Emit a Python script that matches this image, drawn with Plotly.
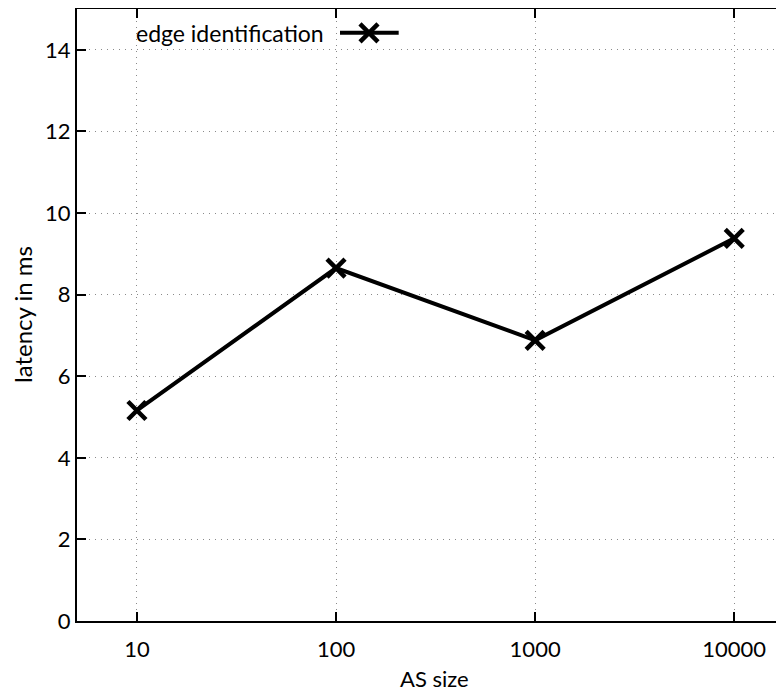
import plotly.graph_objects as go
import math

as_size = [10, 100, 1000, 10000]
latency_ms = [5.16, 8.65, 6.88, 9.38]
series_name = "edge identification"
x_title = "AS size"
y_title = "latency in ms"
x_ticks = [10, 100, 1000, 10000]
y_ticks = [0, 2, 4, 6, 8, 10, 12, 14]

FONT = "Lato"
GRID = dict(showgrid=True, gridcolor="#8a8a8a", griddash="1px,5px", gridwidth=1)
LW = 4
MK = dict(symbol="x-thin", size=18, line=dict(color="black", width=4.5))
fig = go.Figure()
fig.add_trace(go.Scatter(
    x=as_size, y=latency_ms, mode="lines+markers", showlegend=False,
    line=dict(color="black", width=LW), marker=MK,
))
# legend sample on an overlay axis spanning the plot area (0..1)
fig.add_trace(go.Scatter(
    x=[0.372, 0.455], y=[0.961, 0.961], xaxis="x2", yaxis="y2",
    mode="lines", showlegend=False, line=dict(color="black", width=LW), hoverinfo="skip"))
fig.add_trace(go.Scatter(
    x=[0.413], y=[0.961], xaxis="x2", yaxis="y2", mode="markers", showlegend=False,
    marker=MK, hoverinfo="skip"))

fig.add_annotation(x=0.352, y=0.961, xref="x2", yref="y2", xanchor="right", yanchor="middle",
                   text=series_name, showarrow=False,
                   font=dict(family=FONT, size=23, color="black"))
fig.add_annotation(x=0.5, y=0, xref="paper", yref="paper", xanchor="center", yanchor="middle",
                   xshift=4, yshift=-57, text=x_title, showarrow=False,
                   font=dict(family=FONT, size=22, color="black"))
fig.add_annotation(x=0, y=0.5, xref="paper", yref="paper", xanchor="center", yanchor="middle",
                   xshift=-55, textangle=-90, text=y_title, showarrow=False,
                   font=dict(family=FONT, size=24, color="black"))

fig.update_layout(
    width=776, height=687,
    margin=dict(l=69, r=0, t=1, b=74),
    paper_bgcolor="white", plot_bgcolor="white",
    font=dict(family=FONT, size=22, color="black"),
    xaxis=dict(type="log", range=[math.log10(5), 4.25], tickvals=x_ticks,
               ticktext=[str(v) for v in x_ticks], automargin=False,
               tickfont=dict(family=FONT, size=22), ticklabelstandoff=8,
               ticks="inside", ticklen=9, tickwidth=1.5, tickcolor="black",
               showline=True, linecolor="black", linewidth=2, mirror="ticks",
               zeroline=False, **GRID),
    yaxis=dict(range=[0, 15], tickvals=y_ticks, automargin=False,
               tickfont=dict(family=FONT, size=22),
               ticks="inside", ticklen=9, tickwidth=1.5, tickcolor="black",
               showline=True, linecolor="black", linewidth=2,
               zeroline=False, **GRID),
    xaxis2=dict(overlaying="x", range=[0, 1], visible=False, anchor="y2"),
    yaxis2=dict(overlaying="y", range=[0, 1], visible=False),
)
fig.write_html("out.html")
